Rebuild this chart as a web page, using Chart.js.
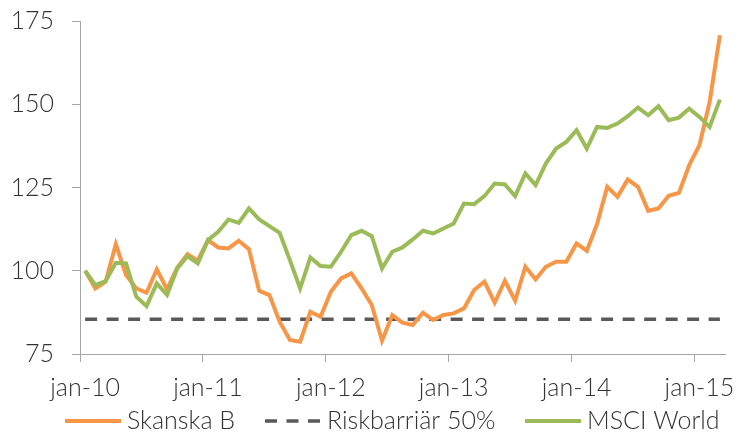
<!DOCTYPE html>
<html>
<head>
<meta charset="utf-8">
<script src="https://cdn.jsdelivr.net/npm/chart.js@4.4.1/dist/chart.umd.min.js"></script>
<style>
  html, body { margin: 0; padding: 0; background: #ffffff; }
  #wrap { width: 746px; height: 439px; }
</style>
</head>
<body>
<div id="wrap"><canvas id="c" width="746" height="439"></canvas></div>
<script>
const months = ["jan-10","feb-10","mar-10","apr-10","maj-10","jun-10","jul-10","aug-10","sep-10","okt-10","nov-10","dec-10",
  "jan-11","feb-11","mar-11","apr-11","maj-11","jun-11","jul-11","aug-11","sep-11","okt-11","nov-11","dec-11",
  "jan-12","feb-12","mar-12","apr-12","maj-12","jun-12","jul-12","aug-12","sep-12","okt-12","nov-12","dec-12",
  "jan-13","feb-13","mar-13","apr-13","maj-13","jun-13","jul-13","aug-13","sep-13","okt-13","nov-13","dec-13",
  "jan-14","feb-14","mar-14","apr-14","maj-14","jun-14","jul-14","aug-14","sep-14","okt-14","nov-14","dec-14",
  "jan-15","feb-15","mar-15"];

const skanska = [100, 94.7, 96.7, 108, 98.7, 94.7, 93.4, 100.4, 94.4, 101, 105, 103,
  109.2, 107, 106.7, 109, 106.5, 94, 92.7, 84.7, 79.2, 78.7, 87.7, 86.2,
  93.7, 97.7, 99.2, 94.7, 89.7, 79, 86.7, 84.4, 83.7, 87.4, 85.2, 86.7,
  87.2, 88.7, 94.2, 96.7, 90.4, 97, 91, 101.2, 97.4, 101.2, 102.7, 102.7,
  108.2, 106, 114, 125.2, 122.2, 127.4, 125.2, 118, 118.7, 122.5, 123.4, 131.7,
  137.7, 150.7, 170.7];

const riskbarriar = [85.4, 85.4, 85.4, 85.4, 85.4, 85.4, 85.4, 85.4, 85.4, 85.4, 85.4, 85.4,
  85.4, 85.4, 85.4, 85.4, 85.4, 85.4, 85.4, 85.4, 85.4, 85.4, 85.4, 85.4,
  85.4, 85.4, 85.4, 85.4, 85.4, 85.4, 85.4, 85.4, 85.4, 85.4, 85.4, 85.4,
  85.4, 85.4, 85.4, 85.4, 85.4, 85.4, 85.4, 85.4, 85.4, 85.4, 85.4, 85.4,
  85.4, 85.4, 85.4, 85.4, 85.4, 85.4, 85.4, 85.4, 85.4, 85.4, 85.4, 85.4,
  85.4, 85.4, 85.4];

const msci = [100, 95.7, 96.9, 102.4, 102.2, 92.2, 89.4, 96.2, 92.7, 100.7, 104.4, 102.2,
  109.2, 111.7, 115.4, 114.4, 118.7, 115.4, 113.4, 111.4, 103.2, 94.7, 104, 101.4,
  101.2, 105.7, 110.7, 112, 110.4, 100.7, 105.7, 107, 109.4, 112, 111.2, 112.7,
  114.2, 120.2, 120, 122.4, 126.2, 125.9, 122.4, 129.2, 125.7, 132.2, 136.7, 138.7,
  142.2, 136.7, 143.2, 142.9, 144.2, 146.4, 149, 146.7, 149.4, 145.2, 146, 148.7,
  146.2, 143.2, 151.4];

const yTicks = [75, 100, 125, 150, 175];
const seriesNames = ["Skanska B", "Riskbarriär 50%", "MSCI World"];

const FONT = { family: "Lato, 'Liberation Sans', sans-serif", size: 25, weight: 300 };
const TEXT = "#333333";
const AXIS = "#a6a6a6";

// Custom bottom legend drawn on the canvas
const legendStarts = [65, 265, 525];
const bottomLegend = {
  id: "bottomLegend",
  afterDraw(chart) {
    const ctx = chart.ctx;
    const sampleW = 56, gapText = 6;
    const baseline = 429, lineY = 421;
    ctx.save();
    ctx.font = `${FONT.weight} ${FONT.size}px ${FONT.family}`;
    chart.data.datasets.forEach((ds, i) => {
      let x = legendStarts[i];
      ctx.beginPath();
      ctx.strokeStyle = ds.borderColor;
      ctx.lineWidth = ds.borderWidth;
      ctx.setLineDash(ds.borderDash || []);
      ctx.moveTo(x, lineY);
      ctx.lineTo(x + sampleW, lineY);
      ctx.stroke();
      ctx.setLineDash([]);
      x += sampleW + gapText;
      ctx.fillStyle = TEXT;
      ctx.textAlign = "left";
      ctx.textBaseline = "alphabetic";
      ctx.fillText(ds.label, x, baseline);
    });
    ctx.restore();
  }
};

new Chart(document.getElementById("c"), {
  type: "line",
  data: {
    labels: months,
    datasets: [
      { label: seriesNames[0], data: skanska, borderColor: "#F79646", backgroundColor: "#F79646",
        borderWidth: 4, pointRadius: 0, tension: 0, order: 1 },
      { label: seriesNames[1], data: riskbarriar, borderColor: "#595959", backgroundColor: "#595959",
        borderWidth: 3.5, borderDash: [12, 9.5], pointRadius: 0, tension: 0, order: 2 },
      { label: seriesNames[2], data: msci, borderColor: "#9BBB59", backgroundColor: "#9BBB59",
        borderWidth: 4, pointRadius: 0, tension: 0, order: 0 }
    ]
  },
  options: {
    responsive: false,
    animation: false,
    layout: { padding: { left: 0, right: 21, top: 21, bottom: 35 } },
    plugins: {
      tooltip: { enabled: false },
      legend: { display: false }
    },
    scales: {
      x: {
        type: "category",
        offset: true,
        border: { display: true, color: AXIS, width: 1 },
        grid: {
          offset: true,
          drawOnChartArea: false,
          drawTicks: true,
          tickLength: 8,
          color: "rgba(0,0,0,0)",
          tickColor: (ctx) => (ctx.index !== undefined && ctx.index % 12 === 0) ? AXIS : "rgba(0,0,0,0)",
          tickWidth: 1
        },
        ticks: {
          autoSkip: false,
          maxRotation: 0,
          minRotation: 0,
          padding: 11,
          color: TEXT,
          font: FONT,
          callback: function (value, index) { return index % 12 === 0 ? months[index] : ""; }
        },
        afterFit: (scale) => { scale.height = 50; scale.paddingLeft = 0; scale.paddingRight = 0; }
      },
      y: {
        min: 75,
        max: 175,
        border: { display: true, color: AXIS, width: 1 },
        grid: { drawOnChartArea: false, drawTicks: true, tickLength: 8, color: AXIS },
        afterBuildTicks: (scale) => { scale.ticks = yTicks.map(v => ({ value: v })); },
        ticks: { padding: 18, color: TEXT, font: FONT },
        afterFit: (scale) => { scale.width = 80; scale.paddingTop = 0; scale.paddingBottom = 0; }
      }
    }
  },
  plugins: [bottomLegend]
});
</script>
</body>
</html>
